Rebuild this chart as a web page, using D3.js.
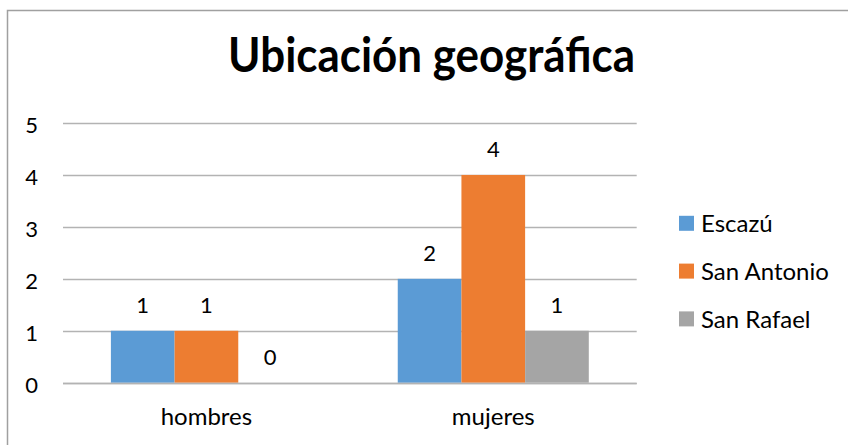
<!DOCTYPE html>
<html>
<head>
<meta charset="utf-8">
<script src="https://cdn.jsdelivr.net/npm/d3@7"></script>
<style>
  html, body { margin: 0; padding: 0; background: #fff; }
  svg { display: block; }
  text { font-family: Lato, "Noto Sans", sans-serif; fill: #000; }
</style>
</head>
<body>
<div id="chart"></div>
<script>
const title = "Ubicación geográfica";
const categories = ["hombres", "mujeres"];
const seriesNames = ["Escazú", "San Antonio", "San Rafael"];
const escazu = [1, 2];
const sanAntonio = [1, 4];
const sanRafael = [0, 1];
const seriesColors = ["#5B9BD5", "#ED7D31", "#A5A5A5"];
const yTicks = [0, 1, 2, 3, 4, 5];

const seriesValues = [escazu, sanAntonio, sanRafael];

const W = 848, H = 445;
const svg = d3.select("#chart").append("svg").attr("width", W).attr("height", H);

// chart border (extends beyond right/bottom edges)
svg.append("rect")
  .attr("x", 7.5).attr("y", 10.5)
  .attr("width", 900).attr("height", 500)
  .attr("fill", "none").attr("stroke", "#a0a0a0").attr("stroke-width", 1.5);

const plot = { left: 63, right: 636.7, top: 123, bottom: 382.7 };

const y = d3.scaleLinear().domain([0, 5]).range([plot.bottom, plot.top]);
const x0 = d3.scaleBand().domain(categories).range([plot.left, plot.right])
  .paddingInner(0.334).paddingOuter(0.167);
const x1 = d3.scaleBand().domain(seriesNames).range([0, x0.bandwidth()]).padding(0);

// title
svg.append("text")
  .attr("x", 431.5).attr("y", 72)
  .attr("text-anchor", "middle")
  .attr("font-size", 48).attr("font-weight", 700)
  .attr("textLength", 407).attr("lengthAdjust", "spacingAndGlyphs")
  .text(title);

// gridlines
svg.append("g").selectAll("line").data(yTicks).join("line")
  .attr("x1", plot.left).attr("x2", plot.right)
  .attr("y1", d => Math.round(y(d)) + 0.5).attr("y2", d => Math.round(y(d)) + 0.5)
  .attr("stroke", "#b3b3b3").attr("stroke-width", 1.5);

// y axis labels
const yAxis = d3.axisLeft(y).tickValues(yTicks).tickSize(0).tickPadding(0).tickFormat(d3.format("d"));
const gy = svg.append("g").attr("transform", `translate(38,0)`).call(yAxis);
gy.select(".domain").remove();
gy.selectAll("text").attr("font-size", 22).attr("font-family", "Lato, sans-serif").attr("fill", "#000").attr("dy", "0.45em");

// bars
const groups = svg.append("g").selectAll("g").data(categories).join("g")
  .attr("transform", d => `translate(${x0(d)},0)`);

groups.selectAll("rect")
  .data((c, ci) => seriesNames.map((s, si) => ({ s, si, v: seriesValues[si][ci] })))
  .join("rect")
  .attr("x", d => x1(d.s))
  .attr("width", x1.bandwidth())
  .attr("y", d => y(d.v))
  .attr("height", d => y(0) - y(d.v))
  .attr("fill", d => seriesColors[d.si]);

// redraw baseline on top
svg.append("line")
  .attr("x1", plot.left).attr("x2", plot.right)
  .attr("y1", Math.round(y(0)) + 0.5).attr("y2", Math.round(y(0)) + 0.5)
  .attr("stroke", "#b3b3b3").attr("stroke-width", 1.5);

// data labels
groups.selectAll("text.lbl")
  .data((c, ci) => seriesNames.map((s, si) => ({ s, si, v: seriesValues[si][ci] })))
  .join("text").attr("class", "lbl")
  .attr("x", d => x1(d.s) + x1.bandwidth() / 2)
  .attr("y", d => y(d.v) - 18)
  .attr("text-anchor", "middle")
  .attr("font-size", 22)
  .text(d => d.v);

// x axis labels
const xAxis = d3.axisBottom(x0).tickSize(0).tickPadding(0);
const gx = svg.append("g").attr("transform", `translate(0,425)`).call(xAxis);
gx.select(".domain").remove();
gx.selectAll("text").attr("font-size", 24).attr("font-family", "Lato, sans-serif").attr("fill", "#000").attr("dy", 0);

// legend
const legend = svg.append("g").selectAll("g").data(seriesNames).join("g")
  .attr("transform", (d, i) => `translate(679,${223.3 + i * 47.8})`);
legend.append("rect").attr("x", 0).attr("y", -7.5).attr("width", 15).attr("height", 15)
  .attr("fill", (d, i) => seriesColors[i]);
legend.append("text").attr("x", 22).attr("y", 0).attr("dy", "0.36em")
  .attr("font-size", 24).text(d => d);
</script>
</body>
</html>
